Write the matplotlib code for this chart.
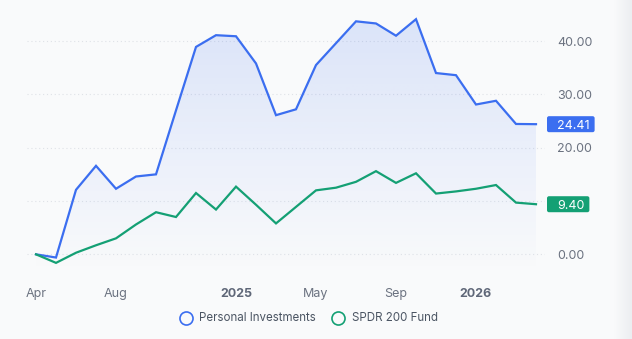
import numpy as np
import matplotlib
matplotlib.use("Agg")
import matplotlib.pyplot as plt
from matplotlib.lines import Line2D
from matplotlib.patches import FancyBboxPatch
from matplotlib.colors import to_rgb
from matplotlib.transforms import blended_transform_factory, IdentityTransform

plt.rcParams['font.family'] = ['Inter', 'DejaVu Sans']

# performance (%) per period
personal = [0.0, -0.6, 12.1, 16.6, 12.3, 14.6, 15.0, 27.0, 38.9, 41.1, 40.9, 35.8, 26.1,
            27.2, 35.5, 39.6, 43.7, 43.3, 41.0, 44.1, 34.0, 33.6, 28.1, 28.8, 24.45, 24.41]
spdr = [0.0, -1.6, 0.3, 1.7, 3.0, 5.6, 7.9, 7.0, 11.5, 8.4, 12.7, 9.3, 5.8,
        8.9, 12.0, 12.5, 13.6, 15.6, 13.4, 15.2, 11.4, 11.8, 12.3, 13.0, 9.7, 9.40]
series_names = ["Personal Investments", "SPDR 200 Fund"]
time_labels = ["Apr", "Aug", "2025", "May", "Sep", "2026"]
time_label_idx = [0, 4, 10, 14, 18, 22]
price_ticks = [0, 10, 20, 30, 40]

BG = "#f9fafb"
BLUE = "#3b6ef0"
GREEN = "#14a074"
MUTED = "#6b7280"
W, H = 632, 339

fig = plt.figure(figsize=(W / 100, H / 100), dpi=100)
fig.patch.set_facecolor(BG)

left, right, bottom = 27, 545, 273
ax = fig.add_axes([left / W, 1 - bottom / H, (right - left) / W, bottom / H])
ax.set_facecolor("none")
for s in ax.spines.values():
    s.set_visible(False)

x = np.arange(len(personal))
ymin, ymax = -3.5, 47.7

# area gradient under the first series
r, g, b = to_rgb(BLUE)
alpha = np.linspace(0.17, 0.0, 256).reshape(-1, 1)
grad = np.zeros((256, 1, 4))
grad[..., 0], grad[..., 1], grad[..., 2] = r, g, b
grad[..., 3] = alpha
im = ax.imshow(grad, extent=[x[0], x[-1], ymin, ymax], aspect="auto",
               origin="upper", zorder=1)
area = ax.fill_between(x, personal, ymin, color="none", lw=0)
im.set_clip_path(area.get_paths()[0], transform=ax.transData)

ax.plot(x, personal, color=BLUE, lw=1.6, zorder=3, solid_joinstyle="miter")
ax.plot(x, spdr, color=GREEN, lw=1.6, zorder=3, solid_joinstyle="miter")

ax.set_xlim(-0.45, len(x) - 1 + 0.45)
ax.set_ylim(ymin, ymax)

# price scale labels; ones sitting under a value badge are left out
badge_vals = [personal[-1], spdr[-1]]
ylabels = ["" if min(abs(v - bv) for bv in badge_vals) < 2 else f"{v:.2f}"
           for v in price_ticks]
ax.yaxis.tick_right()
ax.set_yticks(price_ticks, ylabels)
ax.tick_params(axis="y", length=0, pad=8.6, labelsize=9, labelcolor=MUTED)
ax.yaxis.grid(True, linestyle=(0, (1, 2.5)), color="#dfe2e7", lw=0.8)
ax.set_axisbelow(True)

ax.set_xticks(time_label_idx, time_labels)
ax.tick_params(axis="x", length=0, pad=10.5, labelsize=9, labelcolor=MUTED)
for lab in ax.get_xticklabels():
    if lab.get_text().isdigit():
        lab.set_fontweight("bold")
        lab.set_color("#5f6778")

# last value badges on the price scale
trans = blended_transform_factory(ax.transAxes, ax.transData)
badges = []
for vals, col in [(personal, BLUE), (spdr, GREEN)]:
    t = ax.text((557 - left) / (right - left), vals[-1], f"{vals[-1]:.2f}",
                transform=trans, ha="left", va="center_baseline", color="white",
                fontsize=9, zorder=7, clip_on=False)
    badges.append((t, vals[-1], col))

fig.canvas.draw()
renderer = fig.canvas.get_renderer()
for t, v, col in badges:
    ext = t.get_window_extent(renderer)
    yc = ax.transData.transform((0, v))[1]
    box = FancyBboxPatch((547, yc - 8), ext.x1 + 5 - 547, 16,
                         boxstyle="round,pad=0,rounding_size=2",
                         transform=IdentityTransform(), facecolor=col,
                         edgecolor="none", zorder=6, clip_on=False)
    ax.add_artist(box)

# legend
ly = 1 - 317.7 / H
for cx, tx, col, name in [(186, 199, BLUE, series_names[0]),
                          (337.7, 351.7, GREEN, series_names[1])]:
    fig.add_artist(Line2D([cx / W], [ly], marker="o", ms=9.4, mfc="none",
                          mec=col, mew=1.2, transform=fig.transFigure))
    fig.text(tx / W, ly, name, ha="left", va="center", fontsize=8.3,
             color="#4b5563")

# soft shade at the right edge
sh = fig.add_axes([614 / W, 0, 18 / W, 1])
sh.axis("off")
c0, c1 = np.array(to_rgb(BG)), np.array(to_rgb("#eceef1"))
ramp = np.linspace(0, 1, 64).reshape(1, -1, 1)
sh.imshow(c0 + (c1 - c0) * ramp, aspect="auto", extent=[0, 1, 0, 1])

fig.savefig("out.png", dpi=100, facecolor=BG)
